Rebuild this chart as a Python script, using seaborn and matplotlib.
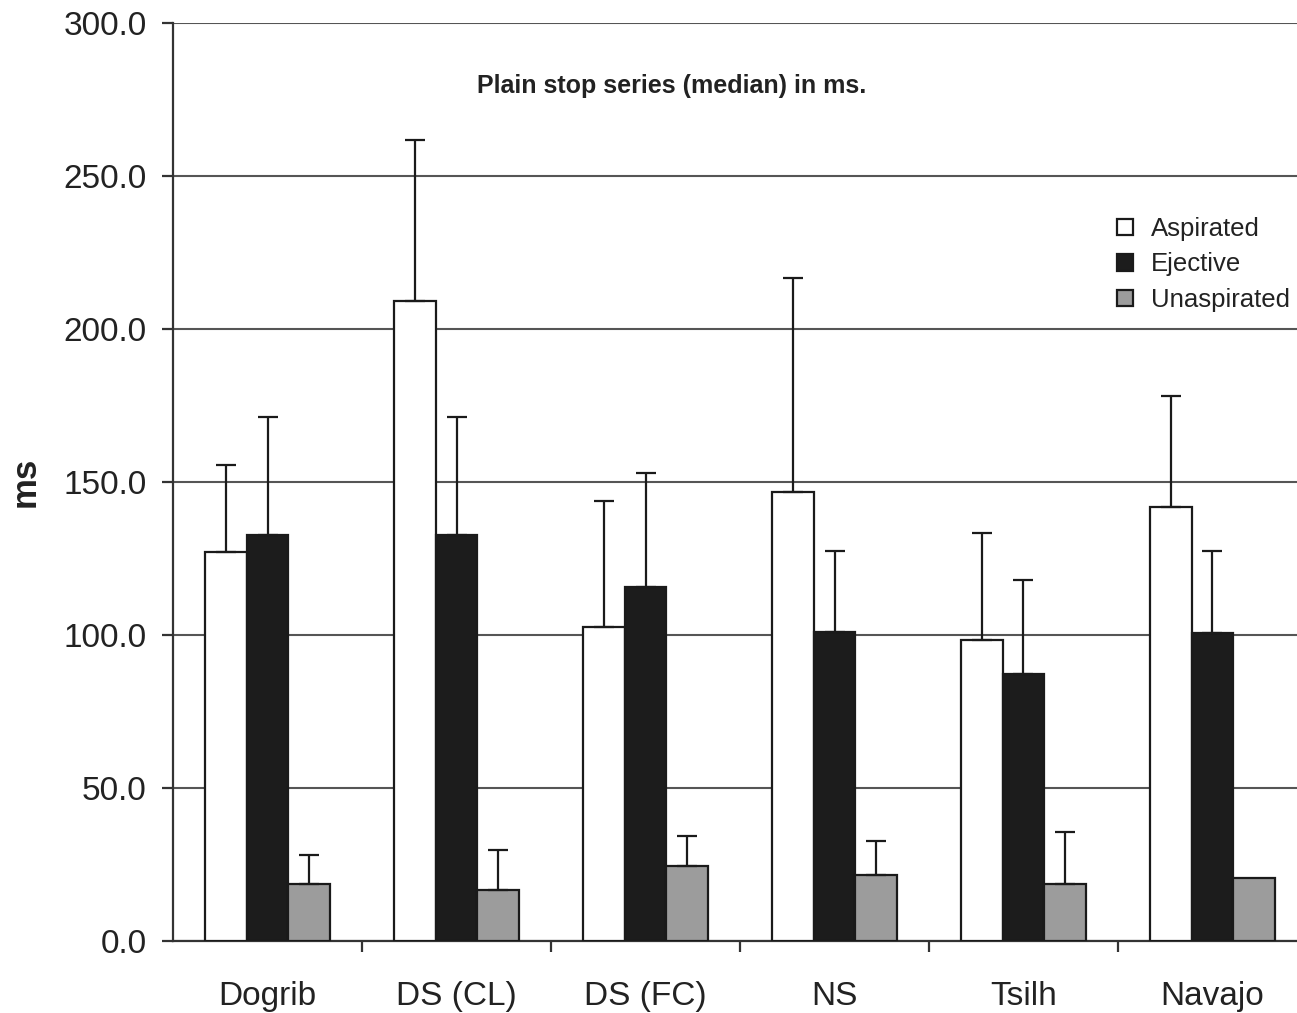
import matplotlib
matplotlib.use("Agg")
import matplotlib.pyplot as plt
import seaborn as sns
import pandas as pd
import numpy as np
from matplotlib.container import BarContainer

languages = ["Dogrib", "DS (CL)", "DS (FC)", "NS", "Tsilh", "Navajo"]
series = ["Aspirated", "Ejective", "Unaspirated"]
aspirated = [127.1, 209.2, 102.6, 146.7, 98.4, 141.8]
aspirated_err = [155.6, 261.8, 143.8, 216.7, 133.3, 178.1]
ejective = [132.7, 132.7, 115.7, 101.0, 87.3, 100.7]
ejective_err = [171.2, 171.2, 152.9, 127.5, 118.0, 127.5]
unaspirated = [18.6, 16.7, 24.5, 21.6, 18.6, 20.6]
unaspirated_err = [28.1, 29.7, 34.3, 32.7, 35.6, None]

sns.set_theme(style="white")
plt.rcParams["font.family"] = ["Liberation Sans", "DejaVu Sans"]

rows = []
for i, lang in enumerate(languages):
    for s, vals in zip(series, [aspirated, ejective, unaspirated]):
        rows.append({"lang": lang, "series": s, "value": vals[i]})
df = pd.DataFrame(rows)

fig = plt.figure(figsize=(12.97, 10.13), dpi=100)
ax = fig.add_axes([0.1334, 0.0711, 1.0077 - 0.1334, 0.9773 - 0.0711])

colors = {"Aspirated": "#ffffff", "Ejective": "#1c1c1c", "Unaspirated": "#9c9c9c"}
sns.barplot(data=df, x="lang", y="value", hue="series", order=languages,
            hue_order=series, palette=colors, width=0.66, gap=0,
            edgecolor="#1a1a1a", linewidth=1.6, errorbar=None, ax=ax, zorder=3)

# error bars (upper only), positioned on the drawn bars
errs = [aspirated_err, ejective_err, unaspirated_err]
vals = [aspirated, ejective, unaspirated]
bars = [p for c in ax.containers if isinstance(c, BarContainer) for p in c]
for si in range(3):
    for li in range(len(languages)):
        top = errs[si][li]
        if top is None:
            continue
        v = vals[si][li]
        xc = li + (si - 1) * 0.22
        for b in bars:
            bx = b.get_x() + b.get_width() / 2
            if abs(bx - xc) < 0.05:
                xc = bx
        ax.errorbar([xc], [v], yerr=[[0], [top - v]], fmt="none",
                    ecolor="#1a1a1a", elinewidth=1.6, capsize=7, capthick=1.6, zorder=4)

ax.set_ylim(0, 300)
ax.set_xlim(-0.5, 5.5)
ax.set_yticks(np.arange(0, 301, 50))
ax.set_yticklabels([f"{v:.1f}" for v in np.arange(0, 301, 50)], fontsize=24, color="#222222")
ax.set_xticks(range(len(languages)))
ax.set_xticklabels(languages, fontsize=24, color="#222222")
ax.set_xticks(np.arange(0.5, 5.5, 1.0), minor=True)
ax.tick_params(axis="x", which="major", length=0, pad=29)
ax.tick_params(axis="x", which="minor", length=8, width=1.6, color="#333333", direction="out", bottom=True)
ax.tick_params(axis="y", length=8, width=1.6, color="#333333", direction="out", left=True, pad=11)

ax.yaxis.grid(True, color="#555555", linewidth=1.5, zorder=0)
ax.set_axisbelow(True)
for side in ["top", "right"]:
    ax.spines[side].set_visible(False)
for side in ["left", "bottom"]:
    ax.spines[side].set_color("#333333")
    ax.spines[side].set_linewidth(1.6)

ax.set_xlabel("")
ax.set_ylabel("ms", fontsize=25, fontweight="bold", labelpad=16, color="#222222")

ax.text(0.44, 0.931, "Plain stop series (median) in ms.", transform=ax.transAxes,
        ha="center", va="center", fontsize=18, fontweight="bold", color="#222222")

handles, labels = ax.get_legend_handles_labels()
leg = ax.legend(handles, labels, loc="upper left", bbox_to_anchor=(0.8236, 0.8),
                frameon=False, fontsize=18.5, handlelength=0.6, handleheight=0.6,
                handletextpad=0.7, labelspacing=0.45, borderaxespad=0)
for t in leg.get_texts():
    t.set_color("#222222")

fig.savefig("out.png", dpi=100)
